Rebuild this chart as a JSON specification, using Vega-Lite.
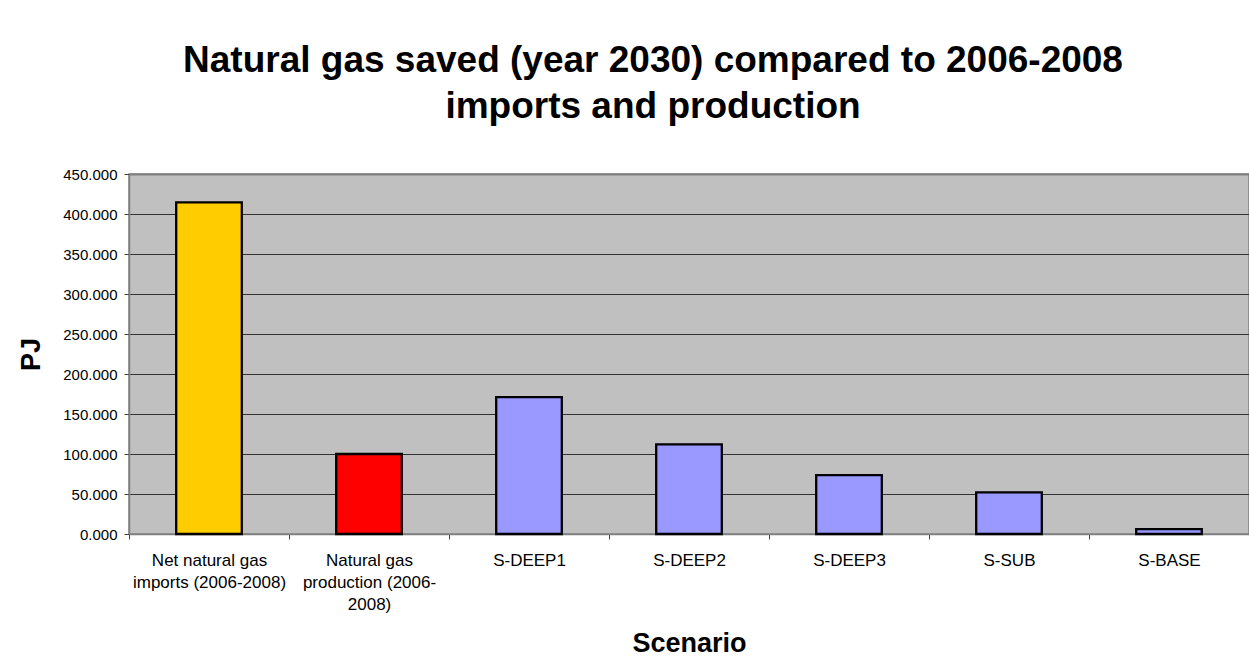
{
  "$schema": "https://vega.github.io/schema/vega-lite/v6.json",
  "autosize": "none",
  "width": 1120,
  "height": 360,
  "padding": {"left": 129, "top": 174, "right": 0, "bottom": 131},
  "background": "white",
  "title": {
    "text": ["Natural gas saved (year 2030) compared to 2006-2008", "imports and production"],
    "font": "Liberation Sans",
    "fontSize": 37,
    "fontWeight": "bold",
    "color": "black",
    "lineHeight": 46,
    "anchor": "middle",
    "frame": "group",
    "dx": -36,
    "offset": 41
  },
  "data": {
    "values": [
      {"category": "Net natural gas imports (2006-2008)", "value": 414.5, "group": "imports"},
      {"category": "Natural gas production (2006-2008)", "value": 100, "group": "production"},
      {"category": "S-DEEP1", "value": 171, "group": "scenario"},
      {"category": "S-DEEP2", "value": 112, "group": "scenario"},
      {"category": "S-DEEP3", "value": 73.5, "group": "scenario"},
      {"category": "S-SUB", "value": 52, "group": "scenario"},
      {"category": "S-BASE", "value": 6, "group": "scenario"}
    ]
  },
  "mark": {"type": "bar", "width": {"band": 0.41}, "stroke": "black", "strokeWidth": 2.3},
  "encoding": {
    "x": {
      "field": "category",
      "type": "nominal",
      "sort": null,
      "scale": {"paddingInner": 0, "paddingOuter": 0},
      "axis": {
        "title": "Scenario",
        "titleFont": "Liberation Sans",
        "titleFontSize": 27,
        "titleFontWeight": "bold",
        "titleColor": "black",
        "titlePadding": 18,
        "labelAngle": 0,
        "labelFont": "Liberation Sans",
        "labelFontSize": 17,
        "labelColor": "black",
        "labelLineHeight": 22,
        "labelPadding": 13,
        "labelExpr": "datum.value == 'Net natural gas imports (2006-2008)' ? ['Net natural gas', 'imports (2006-2008)'] : datum.value == 'Natural gas production (2006-2008)' ? ['Natural gas', 'production (2006-', '2008)'] : datum.value",
        "tickBand": "extent",
        "tickSize": 5,
        "tickColor": "#404040",
        "domainColor": "#808080",
        "domainWidth": 1.5
      }
    },
    "y": {
      "field": "value",
      "type": "quantitative",
      "scale": {"domain": [0, 450], "nice": false},
      "axis": {
        "title": "PJ",
        "titleFont": "Liberation Sans",
        "titleFontSize": 27,
        "titleFontWeight": "bold",
        "titleColor": "black",
        "titlePadding": 17,
        "values": [0, 50, 100, 150, 200, 250, 300, 350, 400, 450],
        "format": ".3f",
        "labelFont": "Liberation Sans",
        "labelFontSize": 15,
        "labelColor": "black",
        "labelPadding": 7,
        "tickSize": 5,
        "tickColor": "#404040",
        "domainColor": "#808080",
        "domainWidth": 1.5,
        "grid": true,
        "gridColor": {"condition": {"test": "datum.value == 450", "value": "#808080"}, "value": "#333333"},
        "gridWidth": {"condition": {"test": "datum.value == 450", "value": 2}, "value": 1},
        "gridOpacity": 1
      }
    },
    "fill": {
      "field": "group",
      "type": "nominal",
      "scale": {"domain": ["imports", "production", "scenario"], "range": ["#FFCC00", "#FF0000", "#9999FF"]},
      "legend": null
    }
  },
  "config": {
    "view": {"fill": "#C0C0C0", "stroke": "#808080", "strokeWidth": 1.5}
  }
}
